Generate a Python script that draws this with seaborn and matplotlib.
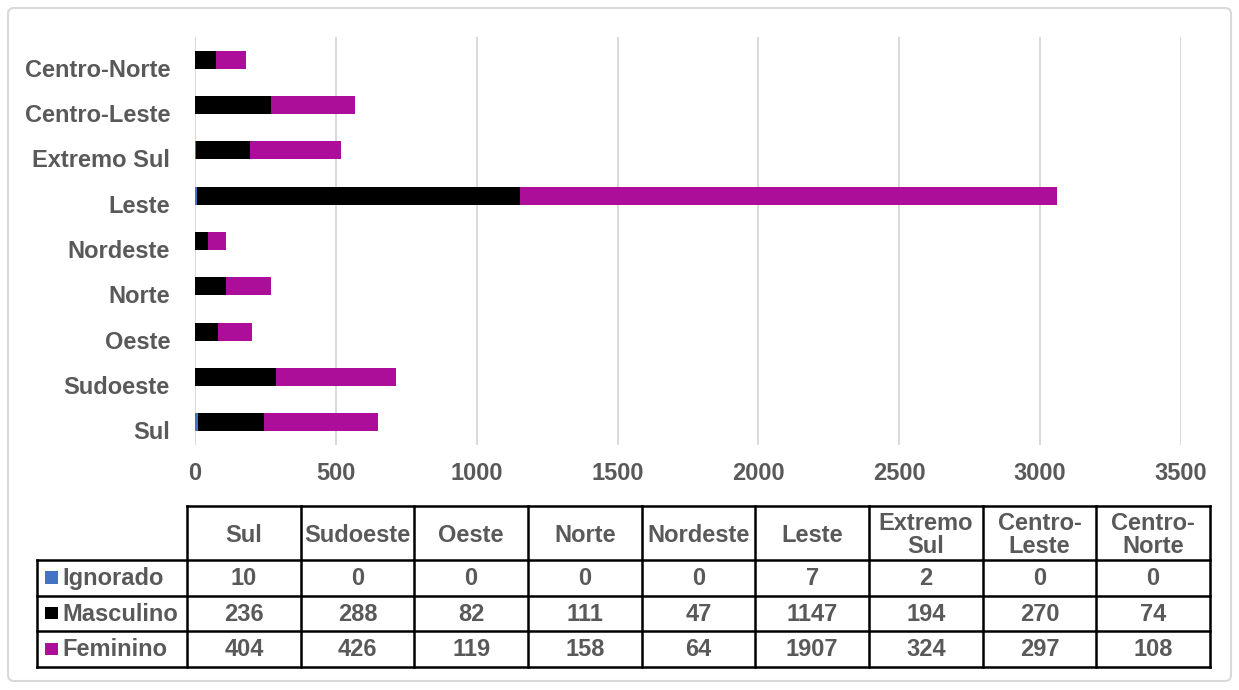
import matplotlib
matplotlib.use("Agg")
import matplotlib.pyplot as plt
import matplotlib.transforms as mtransforms
import seaborn as sns
import pandas as pd
import numpy as np
from matplotlib.patches import FancyBboxPatch, Rectangle

regions = ["Sul", "Sudoeste", "Oeste", "Norte", "Nordeste", "Leste",
           "Extremo Sul", "Centro-Leste", "Centro-Norte"]
header_labels = ["Sul", "Sudoeste", "Oeste", "Norte", "Nordeste", "Leste",
                 "Extremo\nSul", "Centro-\nLeste", "Centro-\nNorte"]
ignorado = [10, 0, 0, 0, 0, 7, 2, 0, 0]
masculino = [236, 288, 82, 111, 47, 1147, 194, 270, 74]
feminino = [404, 426, 119, 158, 64, 1907, 324, 297, 108]
series_names = ["Ignorado", "Masculino", "Feminino"]
series_colors = ["#4472C4", "#000000", "#AC0E99"]
xticks = [0, 500, 1000, 1500, 2000, 2500, 3000, 3500]

TXT = "#595959"
FS = 17

sns.set_theme(style="white")
plt.rcParams["font.family"] = ["Liberation Sans", "DejaVu Sans"]
plt.rcParams["font.weight"] = "bold"

W, H = 1239, 690
fig = plt.figure(figsize=(W / 100, H / 100), dpi=100)

df = pd.DataFrame({"region": regions, "ign": ignorado, "masc": masculino, "fem": feminino})
df["c1"] = df["ign"]
df["c2"] = df["ign"] + df["masc"]
df["c3"] = df["c2"] + df["fem"]
order = regions[::-1]

ax = fig.add_axes([195 / W, 1 - 445 / H, (1181 - 195) / W, (445 - 37) / H])
for col, color in zip(["c3", "c2", "c1"], series_colors[::-1]):
    sns.barplot(data=df, x=col, y="region", order=order, color=color,
                width=0.4, linewidth=0, saturation=1, ax=ax, zorder=3)
ax.set_xlim(0, 3500)
ax.set_ylim(8.5, -0.5)
ax.set_xticks(xticks)
ax.set_xticklabels([str(t) for t in xticks])
ax.set_xlabel("")
ax.set_ylabel("")
ax.grid(axis="x", color="#D9D9D9", linewidth=1.4, zorder=0)
ax.grid(axis="y", visible=False)
for s in ax.spines.values():
    s.set_visible(False)
ax.tick_params(axis="both", length=0, labelsize=FS, labelcolor=TXT)
ax.tick_params(axis="x", pad=12)
ax.tick_params(axis="y", pad=18)
offset = mtransforms.ScaledTranslation(0, -8 / 100, fig.dpi_scale_trans)
for lab in ax.get_yticklabels():
    lab.set_fontweight("bold")
    lab.set_transform(lab.get_transform() + offset)
for lab in ax.get_xticklabels():
    lab.set_fontweight("bold")

# overlay for border
ov = fig.add_axes([0, 0, 1, 1], zorder=-1)
ov.set_xlim(0, W)
ov.set_ylim(H, 0)
ov.axis("off")
ov.patch.set_visible(False)
ov.add_patch(FancyBboxPatch((8, 8), W - 16, H - 17, boxstyle="round,pad=0,rounding_size=6",
                            fill=False, edgecolor="#D9D9D9", linewidth=1.5))

# overlay for the data table
ov2 = fig.add_axes([0, 0, 1, 1], zorder=5)
ov2.set_xlim(0, W)
ov2.set_ylim(H, 0)
ov2.axis("off")
ov2.patch.set_visible(False)

x_left, x0, x1 = 37, 187, 1210
ncol = len(regions)
colw = (x1 - x0) / ncol
col_edges = [x0 + i * colw for i in range(ncol + 1)]
y_head, y_rows = 506, [560, 595.5, 631, 667]
lw = 1.8
ov2.plot([x0, x1], [y_head, y_head], color="black", lw=lw, solid_capstyle="projecting")
for xe in col_edges:
    ov2.plot([xe, xe], [y_head, y_rows[-1]], color="black", lw=lw, solid_capstyle="projecting")
for yr in y_rows:
    ov2.plot([x_left, x1], [yr, yr], color="black", lw=lw, solid_capstyle="projecting")
ov2.plot([x_left, x_left], [y_rows[0], y_rows[-1]], color="black", lw=lw, solid_capstyle="projecting")

for i, lab in enumerate(header_labels):
    cx = (col_edges[i] + col_edges[i + 1]) / 2
    ov2.text(cx, (y_head + y_rows[0]) / 2 + 2, lab, ha="center", va="center",
             fontsize=FS, color=TXT, fontweight="bold", linespacing=1.0)

rows = [ignorado, masculino, feminino]
for r, (name, color, vals) in enumerate(zip(series_names, series_colors, rows)):
    cy = (y_rows[r] + y_rows[r + 1]) / 2
    ov2.add_patch(Rectangle((45, cy - 6.5), 12.5, 12.5, facecolor=color, edgecolor="none"))
    ov2.text(62, cy + 1, name, ha="left", va="center", fontsize=FS, color=TXT, fontweight="bold")
    for i, v in enumerate(vals):
        cx = (col_edges[i] + col_edges[i + 1]) / 2
        ov2.text(cx, cy + 1, str(v), ha="center", va="center", fontsize=FS,
                 color=TXT, fontweight="bold")

fig.savefig("out.png", dpi=100)
